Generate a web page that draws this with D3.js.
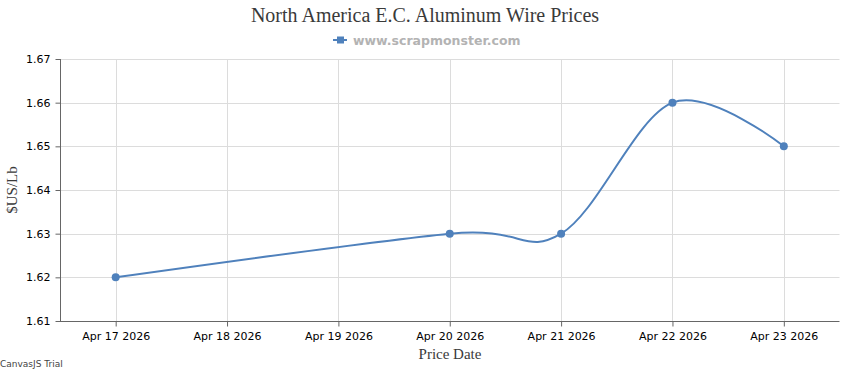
<!DOCTYPE html>
<html>
<head>
<meta charset="utf-8">
<script src="https://cdn.jsdelivr.net/npm/d3@7"></script>
<style>
  body { margin: 0; background: #fff; }
  svg { display: block; }
</style>
</head>
<body>
<svg width="850" height="370"></svg>
<script>
// data
var dates = ["2026-04-17", "2026-04-20", "2026-04-21", "2026-04-22", "2026-04-23"];
var prices = [1.62, 1.63, 1.63, 1.66, 1.65];
var tickDates = ["2026-04-17", "2026-04-18", "2026-04-19", "2026-04-20", "2026-04-21", "2026-04-22", "2026-04-23"];
var yTicks = [1.61, 1.62, 1.63, 1.64, 1.65, 1.66, 1.67];

var svg = d3.select("svg"),
    width = 850,
    height = 370;

var margin = {top: 59, right: 10, bottom: 49, left: 60};
var parse = d3.utcParse("%Y-%m-%d");
var day = 86400000;

var points = dates.map(function(d, i) { return {date: parse(d), value: prices[i]}; });

var x = d3.scaleUtc()
    .domain([new Date(parse(tickDates[0]).getTime() - day / 2),
             new Date(parse(tickDates[tickDates.length - 1]).getTime() + day / 2)])
    .range([margin.left, width - margin.right - 0.5]);

var y = d3.scaleLinear()
    .domain([1.61, 1.67])
    .range([height - margin.bottom, margin.top]);

// grid
svg.append("g")
    .selectAll("line")
    .data(yTicks.slice(1))
    .enter().append("line")
    .attr("x1", margin.left).attr("x2", x.range()[1])
    .attr("y1", function(d) { return Math.round(y(d)) + 0.5; })
    .attr("y2", function(d) { return Math.round(y(d)) + 0.5; })
    .attr("stroke", "#dcdcdc");

svg.append("g")
    .selectAll("line")
    .data(tickDates)
    .enter().append("line")
    .attr("x1", function(d) { return Math.round(x(parse(d))) + 0.5; })
    .attr("x2", function(d) { return Math.round(x(parse(d))) + 0.5; })
    .attr("y1", margin.top).attr("y2", y(1.61))
    .attr("stroke", "#dcdcdc");

// axes
var xAxis = svg.append("g")
    .attr("transform", "translate(0," + (Math.round(y(1.61)) + 0.5) + ")")
    .call(d3.axisBottom(x)
        .tickValues(tickDates.map(parse))
        .tickSize(5)
        .tickPadding(6)
        .tickFormat(d3.utcFormat("%b %-d %Y")));

var yAxis = svg.append("g")
    .attr("transform", "translate(" + (margin.left + 0.5) + ",0)")
    .call(d3.axisLeft(y)
        .tickValues(yTicks)
        .tickSize(5)
        .tickPadding(5)
        .tickFormat(d3.format(".2f")));

[xAxis, yAxis].forEach(function(a) {
    a.select(".domain").attr("stroke", "#666");
    a.selectAll(".tick line").attr("stroke", "#666");
    a.selectAll("text")
        .attr("fill", "#000")
        .style("font-family", "'DejaVu Sans', Verdana, sans-serif")
        .style("font-size", "11px");
});
xAxis.select(".domain").attr("d", "M" + margin.left + ",0H" + x.range()[1]);
yAxis.select(".domain").attr("d", "M0," + margin.top + "V" + y(1.61));

// line
var line = d3.line()
    .x(function(d) { return x(d.date); })
    .y(function(d) { return y(d.value); })
    .curve(d3.curveCardinal.tension(0));

svg.append("path")
    .datum(points)
    .attr("fill", "none")
    .attr("stroke", "#4F81BC")
    .attr("stroke-width", 2)
    .attr("d", line);

svg.append("g")
    .selectAll("circle")
    .data(points)
    .enter().append("circle")
    .attr("cx", function(d) { return x(d.date); })
    .attr("cy", function(d) { return y(d.value); })
    .attr("r", 4)
    .attr("fill", "#4F81BC");

// titles
svg.append("text")
    .attr("x", 425).attr("y", 22)
    .attr("text-anchor", "middle")
    .style("font-family", "'Liberation Serif', 'Times New Roman', serif")
    .style("font-size", "20px")
    .attr("fill", "#3a3a3a")
    .text("North America E.C. Aluminum Wire Prices");

var legend = svg.append("g").attr("transform", "translate(333,40)");
legend.append("line")
    .attr("x1", 0).attr("x2", 14).attr("y1", 0).attr("y2", 0)
    .attr("stroke", "#4F81BC").attr("stroke-width", 2);
legend.append("rect")
    .attr("x", 4).attr("y", -3.5).attr("width", 7).attr("height", 7)
    .attr("fill", "#4F81BC");
legend.append("text")
    .attr("x", 20).attr("y", 4.5)
    .style("font-family", "'DejaVu Sans', Verdana, sans-serif")
    .style("font-size", "12.5px")
    .style("font-weight", "bold")
    .attr("fill", "#b3b3b3")
    .text("www.scrapmonster.com");

svg.append("text")
    .attr("x", 450).attr("y", 359)
    .attr("text-anchor", "middle")
    .style("font-family", "'Liberation Serif', 'Times New Roman', serif")
    .style("font-size", "15px")
    .attr("fill", "#3a3a3a")
    .text("Price Date");

svg.append("text")
    .attr("transform", "translate(17," + (y(1.64)) + ") rotate(-90)")
    .attr("text-anchor", "middle")
    .style("font-family", "'Liberation Serif', 'Times New Roman', serif")
    .style("font-size", "15px")
    .attr("fill", "#3a3a3a")
    .text("$US/Lb");

svg.append("text")
    .attr("x", 0).attr("y", 367)
    .style("font-family", "'DejaVu Sans', Verdana, sans-serif")
    .style("font-size", "9px")
    .attr("fill", "#444")
    .text("CanvasJS Trial");
</script>
</body>
</html>
